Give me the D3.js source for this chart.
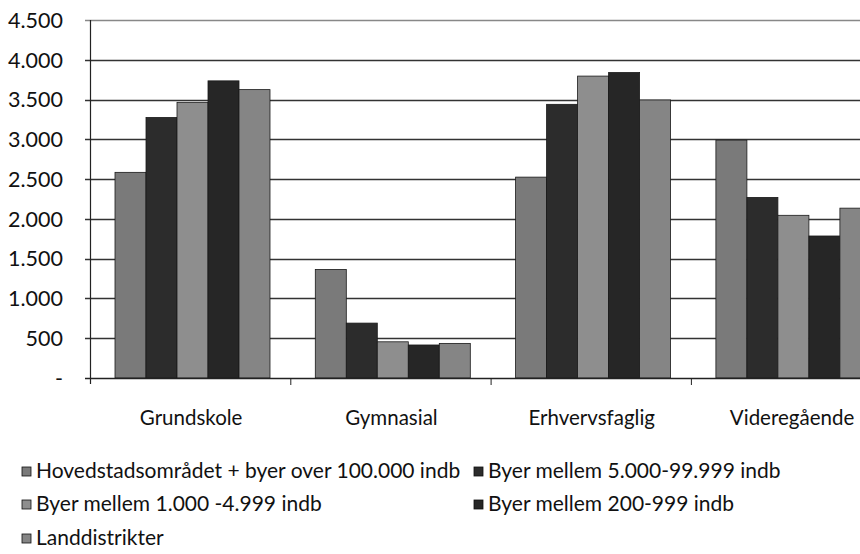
<!DOCTYPE html>
<html lang="da">
  <head>
    <meta charset="utf-8">
    <title>Uddannelse efter bopæl</title>
    <script src="https://cdn.jsdelivr.net/npm/d3@7"></script>
    <style>
      body { margin: 0; background: #fff; }
      svg { display: block; }
      text { font-family: Lato, "Open Sans", sans-serif; fill: #111; }
    </style>
  </head>
  <body>
    <div id="chart"></div>
    <script>

// data
var categories = ["Grundskole", "Gymnasial", "Erhvervsfaglig", "Videregående"];
var seriesNames = [
  "Hovedstadsområdet + byer over 100.000 indb",
  "Byer mellem 5.000-99.999 indb",
  "Byer mellem 1.000 -4.999 indb",
  "Byer mellem 200-999 indb",
  "Landdistrikter"
];
var hovedstad   = [2585, 1365, 2525, 2990];
var byer5000    = [3275,  690, 3440, 2270];
var byer1000    = [3465,  455, 3795, 2045];
var byer200     = [3735,  415, 3840, 1785];
var landdistr   = [3625,  435, 3495, 2135];
var yTicks = [0, 500, 1000, 1500, 2000, 2500, 3000, 3500, 4000, 4500];

var seriesValues = [hovedstad, byer5000, byer1000, byer200, landdistr];
var colors = ["#7a7a7a", "#2c2c2c", "#8e8e8e", "#262626", "#858585"];

var width = 860, height = 554;
var plot = {left: 90, top: 20, bottom: 378, catWidth: 200.3};

var svg = d3.select("#chart").append("svg")
    .attr("width", width)
    .attr("height", height);

var y = d3.scaleLinear()
    .domain([0, 4500])
    .range([plot.bottom, plot.top]);

var x0 = d3.scaleBand()
    .domain(categories)
    .range([plot.left, plot.left + plot.catWidth * categories.length])
    .padding(0);

var x1 = d3.scaleBand()
    .domain(d3.range(seriesNames.length))
    .range([25, 25 + 31 * seriesNames.length]);

function fmt(v) {
  if (v === 0) return "-";
  return d3.format(",")(v).replace(/,/g, ".");
}

// gridlines
svg.append("g")
  .selectAll("line")
  .data(yTicks.filter(function(d) { return d > 0; }))
  .enter().append("line")
    .attr("x1", plot.left - 5)
    .attr("x2", width)
    .attr("y1", function(d) { return Math.round(y(d)) + 0.5; })
    .attr("y2", function(d) { return Math.round(y(d)) + 0.5; })
    .style("stroke", function(d) { return d === 4500 ? "#888" : "#333"; })
    .style("stroke-width", 1.3);

// y labels
svg.append("g")
  .selectAll("text")
  .data(yTicks)
  .enter().append("text")
    .attr("x", 63)
    .attr("y", function(d) { return y(d); })
    .attr("dy", "0.36em")
    .attr("text-anchor", "end")
    .style("font-size", "21.5px")
    .text(fmt);

// bars
var group = svg.append("g")
  .selectAll("g")
  .data(categories)
  .enter().append("g")
    .attr("transform", function(d) { return "translate(" + x0(d) + ",0)"; });

group.selectAll("rect")
  .data(function(d, ci) {
    return seriesValues.map(function(s, si) { return {si: si, v: s[ci]}; });
  })
  .enter().append("rect")
    .attr("x", function(d) { return x1(d.si); })
    .attr("y", function(d) { return y(d.v); })
    .attr("width", x1.bandwidth())
    .attr("height", function(d) { return plot.bottom - y(d.v); })
    .style("fill", function(d) { return colors[d.si]; })
    .style("stroke", "#1a1a1a")
    .style("stroke-width", 0.8);

// axes
svg.append("line")
    .attr("x1", plot.left + 0.5).attr("x2", plot.left + 0.5)
    .attr("y1", plot.top).attr("y2", plot.bottom + 6)
    .style("stroke", "#222").style("stroke-width", 1.2);

svg.append("line")
    .attr("x1", plot.left - 5).attr("x2", width)
    .attr("y1", plot.bottom + 0.5).attr("y2", plot.bottom + 0.5)
    .style("stroke", "#222").style("stroke-width", 1.4);

svg.append("g")
  .selectAll("line")
  .data(categories)
  .enter().append("line")
    .attr("x1", function(d) { return x0(d) + x0.bandwidth() + 0.5; })
    .attr("x2", function(d) { return x0(d) + x0.bandwidth() + 0.5; })
    .attr("y1", plot.bottom)
    .attr("y2", plot.bottom + 7)
    .style("stroke", "#222");

// category labels
svg.append("g")
  .selectAll("text")
  .data(categories)
  .enter().append("text")
    .attr("x", function(d) { return x0(d) + x0.bandwidth() / 2 + 1; })
    .attr("y", 425)
    .attr("text-anchor", "middle")
    .style("font-size", "20.5px")
    .text(function(d) { return d; });

// legend
var legendPos = [
  {x: 22, y: 478}, {x: 474, y: 478},
  {x: 22, y: 511}, {x: 474, y: 511},
  {x: 22, y: 545}
];

var legend = svg.append("g")
  .selectAll("g")
  .data(seriesNames)
  .enter().append("g")
    .attr("transform", function(d, i) {
      return "translate(" + legendPos[i].x + "," + legendPos[i].y + ")";
    });

legend.append("rect")
    .attr("x", 0)
    .attr("y", -11)
    .attr("width", 9)
    .attr("height", 9)
    .style("fill", function(d, i) { return colors[i]; })
    .style("stroke", "#111")
    .style("stroke-width", 0.8);

legend.append("text")
    .attr("x", 14)
    .attr("y", 0)
    .style("font-size", "21px")
    .text(function(d) { return d; });

    </script>
  </body>
</html>
